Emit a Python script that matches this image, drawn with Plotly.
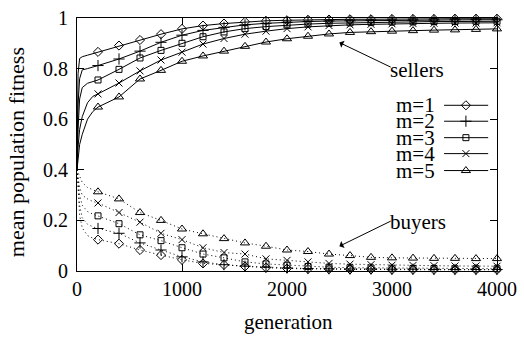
import plotly.graph_objects as go

# ---- data ----
generations = [0, 10, 25, 50, 100, 150, 200, 400, 600, 800, 1000, 1200, 1400, 1600, 1800,
               2000, 2200, 2400, 2600, 2800, 3000, 3200, 3400, 3600, 3800, 4000]
series_names = ["m=1", "m=2", "m=3", "m=4", "m=5"]

sellers_m1 = [0.40, 0.78, 0.84, 0.847, 0.853, 0.859, 0.866, 0.891, 0.913, 0.936, 0.957, 0.970,
              0.978, 0.985, 0.989, 0.991, 0.993, 0.994, 0.995, 0.995, 0.996, 0.996, 0.996, 0.997, 0.997, 0.997]
sellers_m2 = [0.40, 0.66, 0.76, 0.795, 0.800, 0.805, 0.812, 0.838, 0.869, 0.904, 0.932, 0.951,
              0.963, 0.973, 0.979, 0.983, 0.986, 0.988, 0.989, 0.990, 0.991, 0.992, 0.992, 0.993, 0.993, 0.993]
sellers_m3 = [0.40, 0.56, 0.68, 0.725, 0.742, 0.748, 0.755, 0.797, 0.842, 0.872, 0.900, 0.926,
              0.945, 0.958, 0.966, 0.972, 0.976, 0.979, 0.981, 0.983, 0.984, 0.985, 0.986, 0.986, 0.987, 0.987]
sellers_m4 = [0.40, 0.49, 0.56, 0.61, 0.665, 0.690, 0.700, 0.743, 0.791, 0.834, 0.865, 0.897,
              0.919, 0.936, 0.948, 0.958, 0.965, 0.970, 0.973, 0.975, 0.977, 0.978, 0.979, 0.980, 0.980, 0.981]
sellers_m5 = [0.40, 0.45, 0.50, 0.54, 0.60, 0.630, 0.648, 0.688, 0.759, 0.793, 0.829, 0.850,
              0.869, 0.888, 0.905, 0.918, 0.928, 0.937, 0.943, 0.946, 0.948, 0.950, 0.952, 0.953, 0.955, 0.957]

buyers_m1 = [0.40, 0.30, 0.22, 0.17, 0.14, 0.13, 0.124, 0.108, 0.083, 0.063, 0.044, 0.030,
             0.024, 0.018, 0.013, 0.010, 0.008, 0.007, 0.006, 0.006, 0.005, 0.005, 0.005, 0.005, 0.005, 0.005]
buyers_m2 = [0.40, 0.33, 0.26, 0.21, 0.185, 0.175, 0.168, 0.149, 0.111, 0.083, 0.056, 0.036,
             0.025, 0.019, 0.015, 0.012, 0.010, 0.009, 0.008, 0.008, 0.007, 0.007, 0.006, 0.006, 0.006, 0.006]
buyers_m3 = [0.40, 0.35, 0.30, 0.26, 0.235, 0.225, 0.218, 0.187, 0.143, 0.120, 0.092, 0.067,
             0.052, 0.036, 0.028, 0.023, 0.018, 0.015, 0.013, 0.012, 0.011, 0.010, 0.010, 0.009, 0.009, 0.009]
buyers_m4 = [0.40, 0.37, 0.33, 0.30, 0.285, 0.275, 0.269, 0.231, 0.193, 0.149, 0.124, 0.092,
             0.073, 0.067, 0.048, 0.042, 0.036, 0.030, 0.027, 0.025, 0.023, 0.022, 0.021, 0.020, 0.020, 0.019]
buyers_m5 = [0.40, 0.39, 0.37, 0.35, 0.33, 0.32, 0.313, 0.285, 0.231, 0.200, 0.166, 0.147,
             0.128, 0.111, 0.098, 0.083, 0.077, 0.067, 0.061, 0.054, 0.052, 0.051, 0.050, 0.050, 0.049, 0.049]

x_ticks = [0, 1000, 2000, 3000, 4000]
y_ticks = [0, 0.2, 0.4, 0.6, 0.8, 1]
y_tick_labels = ["0", "0.2", "0.4", "0.6", "0.8", "1"]

sellers = [sellers_m1, sellers_m2, sellers_m3, sellers_m4, sellers_m5]
buyers = [buyers_m1, buyers_m2, buyers_m3, buyers_m4, buyers_m5]

# ---- style ----
FONT = "Liberation Serif, Times New Roman, DejaVu Serif, serif"
symbols = ["diamond-open", "cross-thin-open", "square-open", "x-thin-open", "triangle-up-open"]
sizes = [7, 8, 6, 7, 8]
MARK_STEP = 200

mark_idx = [i for i, g in enumerate(generations) if g > 0 and g % MARK_STEP == 0]

fig = go.Figure()

for k in range(5):
    for vals, dash in ((sellers[k], "solid"), (buyers[k], "1px,3px")):
        fig.add_trace(go.Scatter(
            x=generations, y=vals, mode="lines",
            line=dict(color="black", width=1, dash=dash),
            showlegend=False, hoverinfo="skip", cliponaxis=False))
        fig.add_trace(go.Scatter(
            x=[generations[i] for i in mark_idx], y=[vals[i] for i in mark_idx],
            mode="markers",
            marker=dict(symbol=symbols[k], size=sizes[k], color="black",
                        line=dict(color="black", width=1)),
            showlegend=False, hoverinfo="skip", cliponaxis=False))

# ---- custom legend (overlay axes in 0..1 units of plot area) ----
leg_x0, leg_x1, leg_xm = 0.874, 0.979, 0.926
leg_text_x = 0.856
leg_rows = [0.655, 0.592, 0.527, 0.464, 0.397]
for k in range(5):
    fig.add_trace(go.Scatter(
        x=[leg_x0, leg_x1], y=[leg_rows[k]] * 2, mode="lines",
        line=dict(color="black", width=1), xaxis="x2", yaxis="y2",
        showlegend=False, hoverinfo="skip"))
    fig.add_trace(go.Scatter(
        x=[leg_xm], y=[leg_rows[k]], mode="markers",
        marker=dict(symbol=symbols[k], size=sizes[k], color="black",
                    line=dict(color="black", width=1)),
        xaxis="x2", yaxis="y2", showlegend=False, hoverinfo="skip"))

annotations = []
for k in range(5):
    annotations.append(dict(x=leg_text_x, y=leg_rows[k], xref="paper", yref="paper",
                            text=series_names[k], showarrow=False, xanchor="right",
                            yanchor="middle", font=dict(family=FONT, size=21, color="black")))

# sellers / buyers labels with arrows
annotations += [
    dict(x=2499, y=0.903, ax=3002, ay=0.803, xref="x", yref="y", axref="x", ayref="y",
         text="", showarrow=True, arrowhead=1, arrowsize=1.3, arrowwidth=1, arrowcolor="black"),
    dict(x=3240, y=0.795, xref="x", yref="y", text="sellers", showarrow=False,
         xanchor="center", yanchor="middle", font=dict(family=FONT, size=21, color="black")),
    dict(x=2499, y=0.098, ax=3002, ay=0.200, xref="x", yref="y", axref="x", ayref="y",
         text="", showarrow=True, arrowhead=1, arrowsize=1.3, arrowwidth=1, arrowcolor="black"),
    dict(x=3250, y=0.195, xref="x", yref="y", text="buyers", showarrow=False,
         xanchor="center", yanchor="middle", font=dict(family=FONT, size=21, color="black")),
    dict(x=-0.145, y=0.47, xref="paper", yref="paper", text="mean population fitness",
         textangle=-90, showarrow=False, xanchor="center", yanchor="middle",
         font=dict(family=FONT, size=22, color="black")),
    dict(x=0.5036, y=-0.2, xref="paper", yref="paper", text="generation",
         showarrow=False, xanchor="center", yanchor="middle",
         font=dict(family=FONT, size=21, color="black")),
]

axis_common = dict(showline=True, linecolor="black", linewidth=1, mirror="allticks",
                   ticks="inside", ticklen=7, tickcolor="black", tickwidth=1,
                   showgrid=False, zeroline=False, ticklabeloverflow="allow",
                   tickfont=dict(family=FONT, size=20, color="black"))

fig.update_layout(
    width=524, height=338,
    margin=dict(l=77, r=26, t=7, b=67, pad=0),
    font=dict(family=FONT, color="black"),
    paper_bgcolor="white", plot_bgcolor="white",
    showlegend=False,
    xaxis=dict(range=[0, 4000], tickvals=x_ticks, **axis_common),
    yaxis=dict(range=[0, 1], tickvals=y_ticks, ticktext=y_tick_labels,
               ticklabelstandoff=4, **axis_common),
    xaxis2=dict(overlaying="x", range=[0, 1], visible=False),
    yaxis2=dict(overlaying="y", range=[0, 1], visible=False),
    annotations=annotations,
)

# remove the browser's default 8px page margin so the figure sits at (0, 0)
fig.write_html("out.html", config={"displayModeBar": False, "staticPlot": True},
               post_script="document.body.style.margin='0px';")
